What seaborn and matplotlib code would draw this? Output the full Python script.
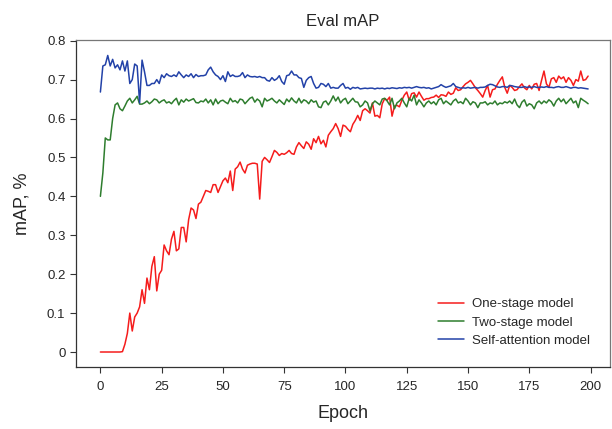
import numpy as np
import pandas as pd
import matplotlib
matplotlib.use("Agg")
import matplotlib.pyplot as plt
import seaborn as sns

# values, one per epoch (0..199)
one_stage = [
    0.0, 0.0, 0.0, 0.0, 0.0, 0.0, 0.0, 0.0, 0.0, 0.001,
    0.02, 0.048, 0.10, 0.054, 0.09, 0.10, 0.116, 0.16, 0.125, 0.19,
    0.16, 0.22, 0.245, 0.157, 0.20, 0.21, 0.275, 0.26, 0.25, 0.29,
    0.31, 0.26, 0.265, 0.32, 0.32, 0.283, 0.34, 0.37, 0.365, 0.343,
    0.38, 0.385, 0.40, 0.415, 0.413, 0.41, 0.43, 0.43, 0.41, 0.425,
    0.44, 0.447, 0.435, 0.465, 0.415, 0.47, 0.476, 0.488, 0.47, 0.46,
    0.48, 0.483, 0.485, 0.485, 0.483, 0.393, 0.49, 0.50, 0.494, 0.487,
    0.502, 0.518, 0.513, 0.505, 0.51, 0.508, 0.512, 0.518, 0.51, 0.508,
    0.527, 0.538, 0.53, 0.523, 0.54, 0.534, 0.521, 0.548, 0.538, 0.554,
    0.535, 0.544, 0.527, 0.557, 0.566, 0.574, 0.587, 0.574, 0.554, 0.583,
    0.58, 0.572, 0.566, 0.585, 0.595, 0.608, 0.595, 0.62, 0.625, 0.62,
    0.614, 0.64, 0.606, 0.608, 0.602, 0.638, 0.651, 0.647, 0.655, 0.606,
    0.632, 0.634, 0.63, 0.647, 0.66, 0.668, 0.647, 0.664, 0.666, 0.655,
    0.668, 0.657, 0.647, 0.651, 0.651, 0.654, 0.655, 0.66, 0.654, 0.661,
    0.66, 0.657, 0.668, 0.662, 0.665, 0.679, 0.672, 0.674, 0.682, 0.689,
    0.693, 0.698, 0.689, 0.679, 0.672, 0.664, 0.655, 0.672, 0.685, 0.655,
    0.674, 0.676, 0.688, 0.698, 0.707, 0.68, 0.665, 0.685, 0.68, 0.672,
    0.674, 0.682, 0.689, 0.679, 0.674, 0.685, 0.676, 0.688, 0.69, 0.672,
    0.698, 0.722, 0.689, 0.68, 0.702, 0.705, 0.693, 0.709, 0.702, 0.707,
    0.693, 0.705, 0.698, 0.685, 0.70, 0.696, 0.722, 0.698, 0.70, 0.709,
]

two_stage = [
    0.40, 0.46, 0.55, 0.545, 0.545, 0.60, 0.635, 0.64, 0.625, 0.62,
    0.632, 0.645, 0.652, 0.64, 0.648, 0.657, 0.637, 0.637, 0.64, 0.645,
    0.638, 0.643, 0.65, 0.648, 0.64, 0.645, 0.648, 0.64, 0.643, 0.638,
    0.646, 0.652, 0.635, 0.648, 0.642, 0.65, 0.645, 0.648, 0.651, 0.641,
    0.64, 0.645, 0.643, 0.65, 0.64, 0.648, 0.635, 0.65, 0.638, 0.645,
    0.647, 0.642, 0.638, 0.652, 0.643, 0.646, 0.64, 0.65, 0.648, 0.638,
    0.645, 0.652, 0.655, 0.642, 0.65, 0.645, 0.63, 0.652, 0.645, 0.648,
    0.652, 0.645, 0.64, 0.648, 0.642, 0.636, 0.65, 0.643, 0.653, 0.645,
    0.64, 0.652, 0.64, 0.648, 0.645, 0.638, 0.648, 0.642, 0.645, 0.63,
    0.628, 0.642, 0.645, 0.635, 0.645, 0.658, 0.645, 0.655, 0.64, 0.648,
    0.652, 0.638, 0.645, 0.652, 0.643, 0.642, 0.63, 0.635, 0.645, 0.64,
    0.62, 0.638, 0.645, 0.64, 0.635, 0.65, 0.652, 0.645, 0.635, 0.652,
    0.625, 0.64, 0.645, 0.652, 0.64, 0.63, 0.652, 0.645, 0.66, 0.635,
    0.648, 0.64, 0.63, 0.64, 0.645, 0.638, 0.643, 0.635, 0.648, 0.652,
    0.638, 0.645, 0.64, 0.635, 0.645, 0.65, 0.64, 0.643, 0.638, 0.652,
    0.645, 0.635, 0.643, 0.64, 0.628, 0.64, 0.64, 0.643, 0.635, 0.64,
    0.638, 0.645, 0.635, 0.64, 0.638, 0.643, 0.64, 0.645, 0.638, 0.65,
    0.635, 0.628, 0.642, 0.648, 0.632, 0.638, 0.635, 0.625, 0.64, 0.645,
    0.638, 0.645, 0.64, 0.648, 0.643, 0.632, 0.645, 0.652, 0.643, 0.65,
    0.638, 0.645, 0.652, 0.64, 0.645, 0.628, 0.652, 0.647, 0.643, 0.638,
]

self_attention = [
    0.668, 0.735, 0.738, 0.762, 0.735, 0.752, 0.73, 0.738, 0.725, 0.748,
    0.722, 0.748, 0.69, 0.70, 0.74, 0.735, 0.64, 0.75, 0.72, 0.685,
    0.685, 0.69, 0.69, 0.70, 0.69, 0.712, 0.705, 0.715, 0.71, 0.708,
    0.712, 0.708, 0.72, 0.712, 0.705, 0.712, 0.708, 0.715, 0.705, 0.713,
    0.708, 0.71, 0.71, 0.712, 0.725, 0.732, 0.72, 0.712, 0.708, 0.70,
    0.71, 0.695, 0.72, 0.708, 0.712, 0.708, 0.708, 0.71, 0.718, 0.705,
    0.712, 0.708, 0.707, 0.708, 0.706, 0.708, 0.705, 0.705, 0.698, 0.696,
    0.705, 0.698, 0.702, 0.71, 0.695, 0.688, 0.71, 0.712, 0.722, 0.712,
    0.712, 0.705, 0.703, 0.68, 0.698, 0.705, 0.708, 0.69, 0.678, 0.68,
    0.69, 0.688, 0.682, 0.69, 0.678, 0.68, 0.678, 0.678, 0.685, 0.69,
    0.678, 0.68, 0.675, 0.68, 0.678, 0.68, 0.676, 0.677, 0.678, 0.677,
    0.678, 0.678, 0.676, 0.678, 0.677, 0.678, 0.676, 0.678, 0.677, 0.679,
    0.678, 0.677, 0.679, 0.678, 0.68, 0.679, 0.68, 0.678, 0.68, 0.682,
    0.68, 0.679, 0.68, 0.678, 0.679, 0.676, 0.678, 0.68, 0.682, 0.687,
    0.683, 0.68, 0.682, 0.684, 0.69, 0.682, 0.68, 0.678, 0.679, 0.678,
    0.68, 0.678, 0.679, 0.68, 0.678, 0.68, 0.68, 0.681, 0.685, 0.688,
    0.687, 0.684, 0.681, 0.68, 0.682, 0.682, 0.68, 0.685, 0.684, 0.682,
    0.681, 0.68, 0.68, 0.682, 0.68, 0.681, 0.68, 0.682, 0.68, 0.68,
    0.681, 0.68, 0.682, 0.68, 0.68, 0.679, 0.681, 0.682, 0.68, 0.68,
    0.682, 0.68, 0.678, 0.68, 0.68, 0.678, 0.679, 0.678, 0.677, 0.676,
]

series_names = ["One-stage model", "Two-stage model", "Self-attention model"]
x_ticks = [0, 25, 50, 75, 100, 125, 150, 175, 200]
y_ticks = [0, 0.1, 0.2, 0.3, 0.4, 0.5, 0.6, 0.7, 0.8]
y_tick_labels = ["0", "0.1", "0.2", "0.3", "0.4", "0.5", "0.6", "0.7", "0.8"]

colors = {
    "One-stage model": "#f51c1c",
    "Two-stage model": "#2e7d2e",
    "Self-attention model": "#2342a8",
}

frames = []
for name, vals in zip(series_names, [one_stage, two_stage, self_attention]):
    frames.append(pd.DataFrame({"epoch": np.arange(len(vals)), "map": vals, "model": name}))
df = pd.concat(frames, ignore_index=True)

sns.set_style("ticks")
plt.rcParams["font.family"] = ["Liberation Sans", "DejaVu Sans"]

fig = plt.figure(figsize=(6.12, 4.29), dpi=100)
ax = fig.add_axes([0.124, 0.145, 0.873, 0.762])

sns.lineplot(data=df, x="epoch", y="map", hue="model", hue_order=series_names,
             palette=colors, linewidth=1.1, ax=ax)

ax.set_xlim(-10, 208)
ax.set_ylim(-0.038, 0.802)
ax.set_xticks(x_ticks)
ax.set_yticks(y_ticks)
ax.set_yticklabels(y_tick_labels)
ax.tick_params(axis="both", labelsize=9.5, length=4, width=0.8, color="#333333",
               direction="out")
ax.tick_params(axis="x", pad=6)

for side in ["left", "bottom"]:
    ax.spines[side].set_color("#333333")
    ax.spines[side].set_linewidth(0.9)
for side in ["top", "right"]:
    ax.spines[side].set_visible(True)
    ax.spines[side].set_color("#777777")
    ax.spines[side].set_linewidth(0.9)

ax.set_title("Eval mAP", fontsize=12, pad=10)
ax.set_xlabel("Epoch", fontsize=13, labelpad=9)
ax.set_ylabel("mAP, %", fontsize=13, labelpad=12)

leg = ax.legend(loc="lower right", frameon=False, fontsize=9.5,
                handlelength=2.0, handletextpad=0.6, labelspacing=0.45,
                bbox_to_anchor=(0.985, 0.025))
for line in leg.get_lines():
    line.set_linewidth(1.1)

fig.savefig("out.png", dpi=100)
plt.close()
